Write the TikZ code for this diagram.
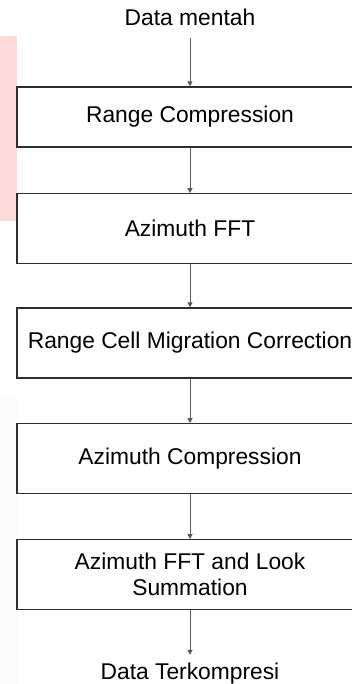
\documentclass[tikz,border=0pt]{standalone}
\usepackage{fontspec}
\setmainfont{Liberation Sans}
\usepackage{tikz}
\usetikzlibrary{arrows.meta}
\usepackage{xcolor}
\definecolor{bandpink}{RGB}{255,218,218}
\definecolor{bandgray}{RGB}{250,250,250}

\begin{document}
\begin{tikzpicture}[x=1pt,y=-1pt,
  font=\fontsize{22.8}{25.5}\selectfont,
  stage/.style={draw=black!82, line width=1.3pt, fill=white, minimum width=346pt,
    align=center, inner sep=0pt},
  ends/.style={inner xsep=0pt, inner ysep=8pt, text height=16pt, text depth=4pt},
  flow/.style={draw=black!65, line width=1pt, -{Triangle[length=5pt,width=5pt]}}]
\clip (0,0) rectangle (352,684);

% side bands
\fill[bandpink] (0,36) rectangle (17,221);
\fill[bandgray] (0,399) rectangle (17,684);

\node[ends] (raw) at (190,20) {Data mentah};
\node[stage, minimum height=60pt] (rc) at (190,117) {Range Compression};
\node[stage, minimum height=69.5pt] (azfft) at (190,228.5) {Azimuth FFT};
\node[stage, minimum height=70pt] (rcmc) at (190,343) {Range Cell Migration Correction};
\node[stage, minimum height=69.5pt] (azc) at (190,458.5) {Azimuth Compression};
\node[stage, minimum height=69.5pt] (azfftls) at (190,574.5) {Azimuth FFT and Look\\Summation};
\node[ends] (out) at (190,673) {Data Terkompresi};

\draw[flow] (raw) -- (rc);
\draw[flow] (rc) -- (azfft);
\draw[flow] (azfft) -- (rcmc);
\draw[flow] (rcmc) -- (azc);
\draw[flow] (azc) -- (azfftls);
\draw[flow] (azfftls) -- (out);
\end{tikzpicture}
\end{document}
